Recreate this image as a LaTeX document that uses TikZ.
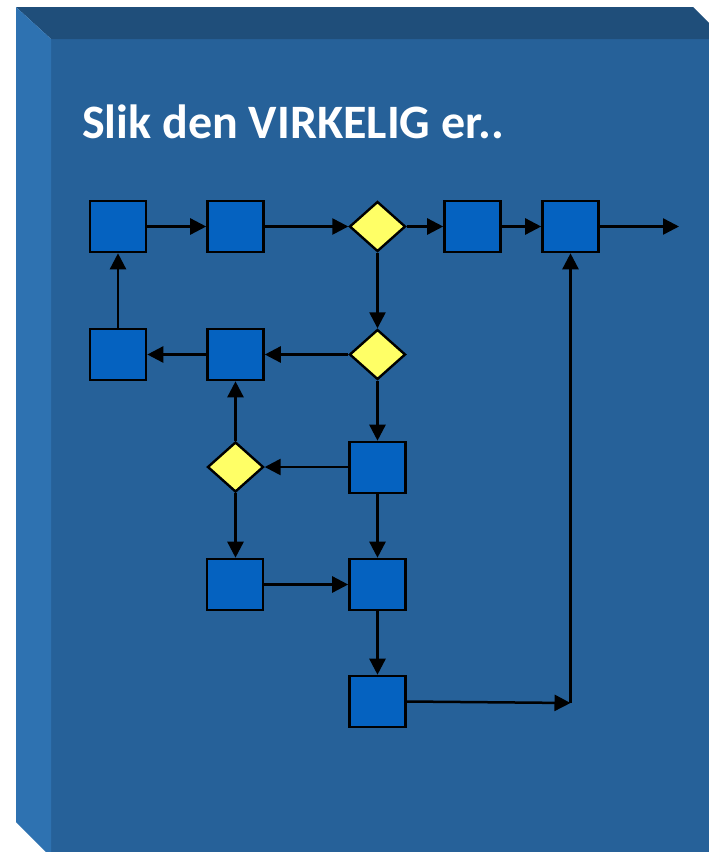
\documentclass[tikz,border=0pt]{standalone}
\usepackage{fontspec}
\setmainfont{Carlito}
\usetikzlibrary{arrows.meta,shapes.geometric}
\definecolor{frontface}{RGB}{38,97,153}
\definecolor{topface}{RGB}{31,78,122}
\definecolor{sideface}{RGB}{46,114,177}
\definecolor{stepblue}{RGB}{5,98,192}
\definecolor{choiceyellow}{RGB}{255,255,102}
\tikzset{
  stepbox/.style={draw=black, line width=2.6pt, fill=stepblue, inner sep=0pt,
    minimum width=56pt, minimum height=51pt},
  choice/.style={diamond, draw=black, line width=2.4pt, fill=choiceyellow, inner sep=0pt,
    minimum width=56pt, minimum height=50pt},
  flow/.style={draw=black, line width=2.5pt, -{Triangle[length=16pt,width=16pt]}},
  title/.style={text=white, font=\fontsize{48}{56}\selectfont\bfseries, anchor=base west, inner sep=0pt}
}
\begin{document}
\begin{tikzpicture}[x=1pt, y=-1pt]
  \useasboundingbox (0,0) rectangle (709,852);
  \begin{scope}
    \clip (0,0) rectangle (709,852);
    % bevelled panel
    \fill[frontface] (51,39) rectangle (740,880);
    \fill[topface] (16,7) -- (693,7) -- (725,39) -- (51,39) -- cycle;
    \fill[sideface] (16,7) -- (51,39) -- (51,857) -- (16,822) -- cycle;
  \end{scope}

  \node[title] (ttl) at (82,138) {Slik den VIRKELIG er..};

  % first row
  \node[stepbox] (a) at (118,226.5) {};
  \node[stepbox] (b) at (235.5,226.5) {};
  \node[choice]  (d1) at (377.5,226.5) {};
  \node[stepbox] (c) at (472.5,226.5) {};
  \node[stepbox] (e) at (570.5,226.5) {};
  \coordinate (out) at (679,226.5);

  % second row
  \node[stepbox] (f) at (118,354.5) {};
  \node[stepbox] (g) at (235.5,354.5) {};
  \node[choice]  (d2) at (377.5,354.5) {};

  % third row
  \node[choice]  (d3) at (235.5,467) {};
  \node[stepbox] (h) at (377.5,467.5) {};

  % fourth row
  \node[stepbox] (i) at (235,584.5) {};
  \node[stepbox] (j) at (377.5,584.5) {};

  % last step
  \node[stepbox] (k) at (377.5,701.5) {};
  \coordinate (turn) at (570.5,703);

  % connectors
  \draw[flow] (a) -- (b);
  \draw[flow] (b) -- (d1);
  \draw[flow] (d1) -- (c);
  \draw[flow] (c) -- (e);
  \draw[flow] (e) -- (out);
  \draw[flow] (d1) -- (d2);
  \draw[flow] (d2) -- (g);
  \draw[flow] (g) -- (f);
  \draw[flow] (f) -- (a);
  \draw[flow] (d2) -- (h);
  \draw[flow] (h.west |- d3) -- (d3.east);
  \draw[flow] (d3) -- (g);
  \draw[flow] (d3.south) -- (d3.south |- i.north);
  \draw[flow] (h) -- (j);
  \draw[flow] (i) -- (j);
  \draw[flow] (j) -- (k);
  \draw[flow] (k.east) -- (turn);
  \draw[flow] (turn) -- (e.south -| turn);
\end{tikzpicture}
\end{document}
